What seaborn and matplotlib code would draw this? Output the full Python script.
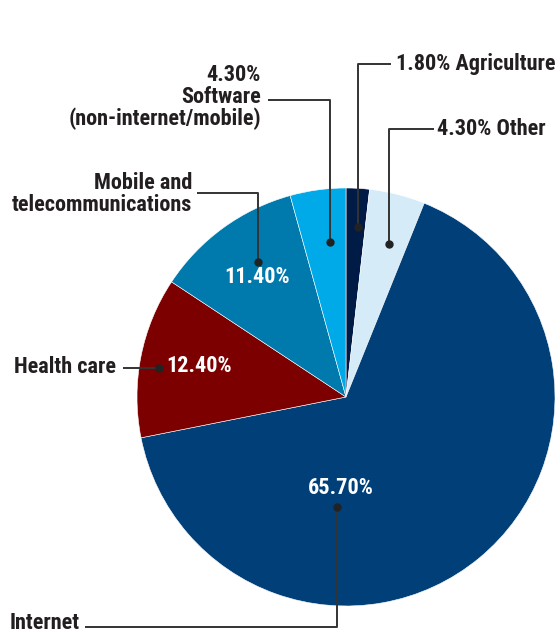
import matplotlib
matplotlib.use("Agg")
import matplotlib.pyplot as plt
import seaborn as sb

# Share of funding by sector (percent), clockwise from 12 o'clock
sectors = ["Agriculture", "Other", "Internet", "Health care",
           "Mobile and\ntelecommunications", "Software\n(non-internet/mobile)"]
shares = [1.8, 4.3, 65.7, 12.4, 11.4, 4.3]
colors = ["#001c46", "#d5ebf8", "#003f78", "#7d0000", "#0079ad", "#00a9e8"]

sb.set_theme(style="white")
plt.rcParams["font.family"] = ["Roboto Condensed", "Fira Sans Condensed", "DejaVu Sans"]
plt.rcParams["font.weight"] = "bold"

W, H = 556, 635
fig = plt.figure(figsize=(W / 100, H / 100), dpi=100)
ax = fig.add_axes([0, 0, 1, 1])

# pixel coordinates, y pointing down
ax.pie(shares, colors=colors, center=(346, 397), radius=209,
       startangle=-90, counterclock=True,
       wedgeprops=dict(linewidth=0.4, edgecolor="white"))
ax.set_xlim(0, W)
ax.set_ylim(H, 0)
ax.set_aspect("equal")
ax.axis("off")

ink = "#231f20"
line = "#333333"
fs = 16


def pct(v):
    return f"{v:.2f}%"


def leader(xs, ys):
    ax.plot(xs, ys, color=line, lw=1.4, solid_capstyle="butt", zorder=3)
    ax.plot(xs[-1], ys[-1], "o", color="#222222", ms=5, zorder=4)


# Agriculture
leader([391, 358, 358], [64, 64, 227])
ax.text(396, 64, f"{pct(shares[0])} {sectors[0]}", ha="left", va="center",
        fontsize=fs, color=ink)

# Other
leader([434, 389, 389], [129, 129, 244])
ax.text(437, 129, f"{pct(shares[1])} {sectors[1]}", ha="left", va="center",
        fontsize=fs, color=ink)

# Internet
leader([85, 337, 337], [627, 627, 507])
ax.text(10, 623, sectors[2], ha="left", va="center", fontsize=fs, color=ink)
ax.text(341, 488, pct(shares[2]), ha="center", va="center", fontsize=fs, color="white")

# Health care
leader([123, 159], [368, 368])
ax.text(116, 367, sectors[3], ha="right", va="center", fontsize=fs, color=ink)
ax.text(199, 366, pct(shares[3]), ha="center", va="center", fontsize=fs, color="white")

# Mobile and telecommunications
leader([197, 258, 258], [193, 193, 262])
ax.text(192, 194, sectors[4], ha="right", va="center", fontsize=fs, color=ink,
        multialignment="right", linespacing=1.0)
ax.text(257, 277, pct(shares[4]), ha="center", va="center", fontsize=fs, color="white")

# Software
leader([268, 330, 330], [100, 100, 242])
ax.text(261, 97, f"{pct(shares[5])}\n{sectors[5]}", ha="right", va="center",
        fontsize=fs, color=ink, multialignment="right", linespacing=1.0)

fig.savefig("out.png", dpi=100)
